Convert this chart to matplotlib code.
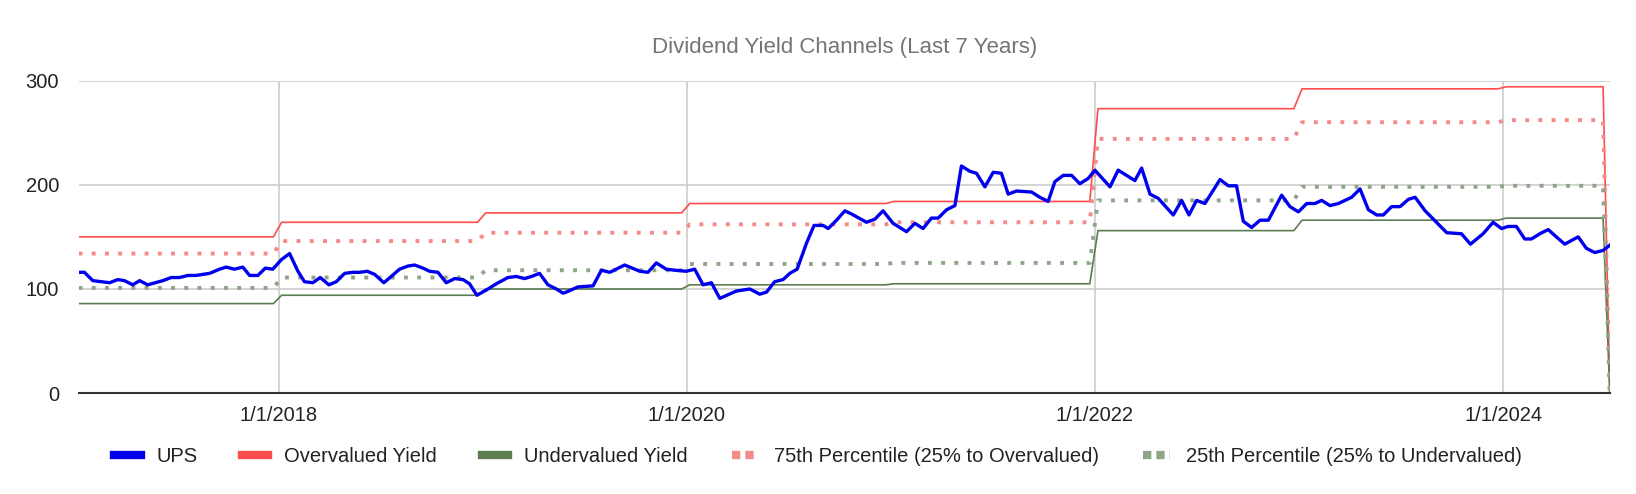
import matplotlib.pyplot as plt
from matplotlib.lines import Line2D

plt.rcParams['font.family'] = ['Liberation Sans', 'DejaVu Sans']

# UPS price (decimal year, value)
ups_dates = [2017.020, 2017.049, 2017.090, 2017.172, 2017.212, 2017.245, 2017.286, 2017.319, 2017.359, 2017.433,
             2017.474, 2017.515, 2017.556, 2017.596, 2017.662, 2017.711, 2017.743, 2017.784, 2017.825, 2017.858,
             2017.899, 2017.935, 2017.972, 2018.013, 2018.054, 2018.095, 2018.127, 2018.168, 2018.204, 2018.247,
             2018.283, 2018.324, 2018.364, 2018.397, 2018.435, 2018.471, 2018.516, 2018.552, 2018.593, 2018.634,
             2018.667, 2018.708, 2018.740, 2018.781, 2018.822, 2018.863, 2018.904, 2018.936, 2018.972, 2019.018,
             2019.067, 2019.124, 2019.165, 2019.206, 2019.239, 2019.279, 2019.320, 2019.361, 2019.394,
             2019.410, 2019.467, 2019.541, 2019.582, 2019.623, 2019.696, 2019.770, 2019.810, 2019.851, 2019.900,
             2019.941, 2019.998, 2020.039, 2020.080, 2020.121, 2020.162, 2020.243, 2020.309, 2020.358, 2020.391,
             2020.431, 2020.472, 2020.505, 2020.541, 2020.587, 2020.624, 2020.668, 2020.693, 2020.734, 2020.775,
             2020.807, 2020.881, 2020.922, 2020.962, 2021.011, 2021.077, 2021.118, 2021.158, 2021.199, 2021.232,
             2021.273, 2021.314, 2021.346, 2021.387, 2021.420, 2021.461, 2021.502, 2021.542, 2021.575, 2021.616,
             2021.690, 2021.730, 2021.771, 2021.804, 2021.845, 2021.886, 2021.926, 2021.967, 2022.000, 2022.074,
             2022.114, 2022.155, 2022.196, 2022.229, 2022.270, 2022.310, 2022.384, 2022.425, 2022.461, 2022.498,
             2022.539, 2022.613, 2022.654, 2022.694, 2022.727, 2022.768, 2022.809, 2022.850, 2022.915, 2022.956,
             2022.997, 2023.038, 2023.078, 2023.111, 2023.152, 2023.193, 2023.258, 2023.299, 2023.340, 2023.381,
             2023.413, 2023.454, 2023.495, 2023.536, 2023.569, 2023.618, 2023.724, 2023.796, 2023.840, 2023.902,
             2023.951, 2023.992, 2024.025, 2024.065, 2024.106, 2024.139, 2024.180, 2024.221, 2024.261, 2024.302,
             2024.368, 2024.408, 2024.449, 2024.490, 2024.523]
ups_values = [116, 116, 108, 106, 109, 108, 104, 108, 104, 108,
              111, 111, 113, 113, 115, 119, 121, 119, 121, 113,
              113, 120, 119, 128, 134, 117, 107, 106, 111, 104,
              107, 115, 116, 116, 117, 114, 106, 112, 119, 122,
              123, 120, 117, 116, 106, 110, 109, 105, 94, 99,
              105, 111, 112, 110, 112, 115, 104, 100, 96,
              97, 102, 103, 118, 116, 123, 117, 116, 125, 119,
              118, 117, 119, 104, 106, 91, 98, 100, 95, 97,
              107, 109, 115, 119, 144, 161, 161, 158, 166, 175,
              172, 164, 167, 175, 163, 155, 163, 158, 168, 168,
              176, 180, 218, 213, 211, 198, 212, 211, 191, 194,
              193, 188, 184, 203, 209, 209, 201, 206, 214, 198,
              214, 209, 204, 216, 191, 187, 171, 185, 171, 185,
              182, 205, 199, 199, 165, 159, 166, 166, 190, 179,
              174, 182, 182, 185, 180, 182, 188, 196, 176, 171,
              171, 179, 179, 186, 188, 175, 154, 153, 143, 153,
              164, 158, 160, 160, 148, 148, 153, 157, 150, 143,
              150, 139, 135, 137, 142]

# channel levels per year (start of each period)
period_years = [2017, 2018, 2019, 2020, 2021, 2022, 2023, 2024]
overvalued = [150, 164, 173, 182, 184, 273, 292, 294]
pct75 = [134, 146, 154, 162, 164, 244, 260, 262]
pct25 = [101, 111, 118, 124, 125, 185, 198, 199]
undervalued = [86, 94, 100, 104, 105, 156, 166, 168]
start_date = 2017.02
last_date = 2024.49
end_date = 2024.523


def channel(levels):
    xs, ys = [start_date], [levels[0]]
    for yr, prev, cur in zip(period_years[1:], levels[:-1], levels[1:]):
        xs += [yr - 0.025, yr + 0.015]
        ys += [prev, cur]
    xs += [last_date, end_date]
    ys += [levels[-1], 0]
    return xs, ys


fig, ax = plt.subplots(figsize=(16.36, 4.94), dpi=100)
fig.subplots_adjust(left=0.048, right=0.984, top=0.837, bottom=0.204)

c_ups = '#0000ee'
c_over = '#ff4d4d'
c_under = '#5b7d52'
c_75 = '#f48a8a'
c_25 = '#8fa58a'

ax.plot(*channel(overvalued), color=c_over, lw=1.2)
ax.plot(*channel(undervalued), color=c_under, lw=1.2)
ax.plot(*channel(pct75), color=c_75, lw=2.8, ls=(0, (1, 2.4)))
ax.plot(*channel(pct25), color=c_25, lw=2.8, ls=(0, (1, 2.4)))
ax.plot(ups_dates, ups_values, color=c_ups, lw=2.4)

ax.set_xlim(start_date, end_date)
ax.set_ylim(0, 300)
ax.set_yticks([0, 100, 200, 300])
ax.set_xticks([2018, 2020, 2022, 2024])
ax.set_xticklabels(['1/1/2018', '1/1/2020', '1/1/2022', '1/1/2024'])
ax.grid(True, color='#cccccc', lw=1.2)
ax.set_axisbelow(True)
for s in ['top', 'right', 'left']:
    ax.spines[s].set_visible(False)
ax.spines['bottom'].set_color('#333333')
ax.spines['bottom'].set_linewidth(1.5)
ax.tick_params(length=0, labelsize=14.5, colors='#222222', pad=9)
ax.tick_params(axis='y', pad=14)

ax.set_title('Dividend Yield Channels (Last 7 Years)', fontsize=16, color='#757575', pad=20)

handles = [Line2D([], [], color=c_ups, lw=6),
           Line2D([], [], color=c_over, lw=6),
           Line2D([], [], color=c_under, lw=6),
           Line2D([], [], color=c_75, lw=6, ls=(0, (1, 0.6))),
           Line2D([], [], color=c_25, lw=6, ls=(0, (1, 0.6)))]
labels = ['UPS', 'Overvalued Yield', 'Undervalued Yield',
          '75th Percentile (25% to Overvalued)', '25th Percentile (25% to Undervalued)']
fig.legend(handles, labels, loc='center', bbox_to_anchor=(0.5, 0.075), ncol=5, frameon=False,
           fontsize=14.5, handlelength=1.3, columnspacing=2.2, labelcolor='#222222')

fig.savefig('out.png', dpi=100)
